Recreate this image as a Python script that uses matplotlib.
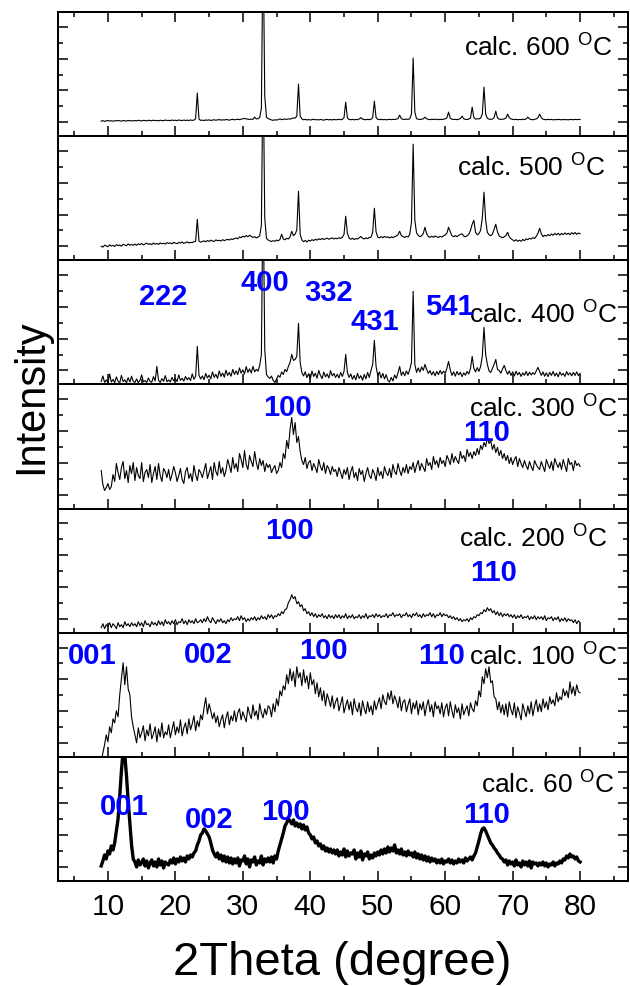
import numpy as np
import matplotlib
matplotlib.use('Agg')
import matplotlib.pyplot as plt
from matplotlib.ticker import MultipleLocator

plt.rcParams['font.family'] = 'Liberation Sans'
plt.rcParams['mathtext.fontset'] = 'custom'
plt.rcParams['mathtext.rm'] = 'Liberation Sans'

# XRD patterns, 2theta 9-80 deg in 0.25 deg steps (20 points = 5 deg per row)
i_600 = [
    15, 15.5, 14.8, 15.3, 15.6, 15.1, 15.4, 14.9, 15.5, 15.2, 15.7, 15.3, 15.0, 15.6, 15.4, 15.1, 15.8, 15.3, 15.5, 15.2,
    15.6, 15.3, 15.9, 15.4, 15.2, 15.8, 15.5, 15.3, 15.9, 15.6, 15.4, 16.0, 15.5, 15.7, 15.3, 15.9, 15.6, 15.4, 16.1, 15.7,
    15.8, 15.5, 16.1, 15.7, 15.9, 15.5, 16.2, 15.8, 15.6, 16.1, 15.7, 16.0, 15.6, 16.2, 15.8, 16.0, 17.5, 43, 17, 15.8,
    16.0, 15.6, 16.2, 15.9, 16.3, 15.7, 16.1, 16.4, 15.9, 16.2, 16.6, 16.0, 16.4, 16.1, 16.7, 16.3, 16.0, 16.5, 16.8, 16.3,
    16.6, 17.0, 16.5, 16.9, 17.3, 17.8, 17.2, 17.0, 16.6, 17.1, 16.8, 19, 17.2, 17.5, 18.5, 28, 200, 40, 19, 17.5,
    16.8, 16.2, 15.8, 16.4, 16.0, 16.6, 17.2, 16.5, 16.9, 17.2, 16.7, 17.3, 17.0, 17.6, 18.2, 18.0, 20, 52, 20, 17.2,
    16.4, 16.8, 16.2, 16.6, 16.1, 16.5, 16.9, 16.3, 16.6, 16.2, 16.7, 16.4, 16.0, 16.5, 16.8, 16.3, 16.6, 16.2, 16.7, 16.4,
    16.5, 16.9, 16.4, 16.8, 18.5, 34, 18.2, 16.7, 16.4, 16.8, 16.3, 16.7, 16.5, 17.2, 18.5, 17.0, 16.6, 16.4, 16.8, 16.5,
    16.9, 18.5, 35, 18.6, 16.8, 16.5, 16.9, 16.4, 16.7, 16.3, 16.6, 16.9, 16.5, 16.8, 16.6, 17.0, 17.5, 21, 17.4, 16.9,
    16.7, 17.0, 16.8, 17.4, 22, 78, 24, 17.5, 16.9, 16.6, 17.0, 17.3, 19, 17.4, 16.8, 16.5, 16.9, 16.6, 17.0, 16.7,
    16.5, 16.9, 16.6, 17.0, 17.3, 18.2, 24, 18.0, 16.9, 16.6, 16.8, 16.5, 16.9, 17.6, 20, 17.4, 16.8, 16.6, 17.1, 18.0,
    29, 18.5, 17.0, 17.4, 17.2, 18.0, 22, 49, 22, 17.8, 17.0, 16.8, 17.1, 18.5, 25, 18.3, 17.0, 16.7, 16.9, 17.2,
    18.0, 22, 18.5, 17.2, 16.8, 16.5, 16.8, 16.4, 16.7, 16.5, 16.9, 16.6, 17.2, 19, 17.3, 16.6, 16.4, 16.8, 17.2, 18.5,
    22, 18.4, 17.0, 16.6, 16.4, 16.8, 16.5, 16.7, 16.3, 16.6, 16.4, 16.8, 16.5, 16.3, 16.7, 16.4, 16.6, 16.3, 16.7, 16.5,
    16.4, 16.8, 16.5, 16.7, 16.6,
]

i_500 = [
    14.0, 13.2, 15.1, 14.3, 13.6, 15.4, 14.2, 15.0, 13.8, 15.6, 14.7, 15.3, 14.1, 16.0, 15.2, 14.6, 16.3, 15.1, 15.8, 14.9,
    16.2, 15.0, 16.6, 15.5, 16.9, 15.4, 16.3, 17.2, 15.8, 16.7, 15.6, 17.3, 16.1, 16.8, 15.9, 17.4, 16.5, 17.0, 16.2, 17.6,
    16.8, 17.5, 16.4, 18.0, 17.1, 16.6, 17.9, 17.2, 18.3, 16.9, 17.7, 18.4, 17.3, 18.0, 17.6, 18.6, 18.9, 41.0, 19.2, 18.1,
    18.7, 19.5, 18.4, 19.8, 18.9, 20.1, 19.3, 18.8, 20.4, 19.6, 20.0, 19.2, 20.6, 19.7, 20.3, 21.0, 20.2, 21.4, 20.8, 21.7,
    22.3, 21.5, 23.4, 22.6, 24.1, 23.2, 24.8, 23.5, 25.0, 23.8, 22.9, 23.6, 22.4, 23.1, 24.5, 35.0, 200, 42.0, 22.0, 20.3,
    19.4, 18.8, 19.6, 19.0, 20.2, 19.5, 20.8, 26.0, 21.2, 20.5, 22.0, 21.3, 23.5, 29.0, 24.6, 26.2, 30.0, 69.0, 26.0, 20.4,
    18.6, 19.8, 18.3, 20.1, 19.2, 20.6, 19.7, 21.0, 20.2, 21.5, 20.6, 21.9, 20.8, 21.4, 22.2, 21.0, 21.8, 22.4, 21.3, 22.0,
    21.5, 22.6, 21.8, 22.9, 26.0, 44.0, 27.0, 22.3, 21.0, 22.1, 20.7, 21.8, 21.2, 22.5, 23.8, 22.0, 21.3, 22.4, 21.6, 22.8,
    23.0, 28.0, 52.0, 28.5, 23.2, 22.4, 23.6, 22.7, 23.9, 22.8, 23.5, 22.3, 23.4, 22.6, 23.7, 24.2, 25.5, 29.0, 24.8, 23.6,
    22.8, 24.0, 23.3, 26.0, 38.0, 116.0, 40.0, 27.5, 25.0, 23.6, 24.4, 26.8, 33.0, 26.5, 23.8, 22.9, 24.1, 23.0, 24.3, 23.4,
    22.8, 24.0, 23.2, 24.5, 25.3, 27.0, 33.0, 28.5, 24.6, 23.5, 24.7, 23.6, 24.9, 25.8, 26.5, 24.3, 23.4, 24.6, 26.0, 30.0,
    36.0, 40.0, 28.0, 25.5, 26.5, 30.0, 42.0, 68.0, 40.0, 28.0, 25.4, 24.6, 26.0, 31.0, 36.0, 28.5, 24.4, 23.2, 22.6, 23.5,
    24.6, 28.0, 23.4, 21.6, 20.4, 19.2, 20.6, 18.9, 20.1, 19.0, 20.8, 19.6, 21.4, 20.5, 22.0, 21.2, 22.6, 21.8, 24.0, 27.0,
    32.0, 26.5, 23.6, 25.0, 24.2, 25.8, 24.6, 26.3, 25.0, 26.8, 25.4, 27.0, 25.2, 26.9, 25.6, 27.4, 25.8, 27.1, 25.5, 27.6,
    26.2, 27.8, 25.9, 27.3, 26.5,
]

i_400 = [
    3.0, 8.5, 2.0, 4.5, 1.5, 10.5, 2.5, 5.0, 1.8, 7.5, 3.2, 1.5, 9.0, 2.8, 4.6, 1.6, 6.8, 2.4, 8.2, 3.0,
    2.0, 5.5, 1.8, 4.0, 9.5, 2.6, 3.8, 1.9, 6.5, 3.0, 2.2, 7.8, 3.5, 18.0, 4.2, 2.0, 5.8, 3.1, 8.8, 2.7,
    4.5, 2.5, 7.0, 3.6, 5.8, 2.9, 9.5, 4.0, 6.2, 3.3, 8.0, 4.6, 6.8, 3.8, 10.5, 5.2, 8.0, 38.0, 9.0, 5.5,
    8.5, 4.8, 11.0, 6.5, 9.2, 5.6, 12.5, 7.0, 10.2, 6.0, 13.5, 8.0, 11.4, 7.2, 14.2, 9.0, 12.0, 8.2, 15.0, 10.0,
    13.5, 9.8, 16.5, 11.2, 14.6, 10.5, 17.8, 12.0, 15.5, 11.4, 18.0, 12.6, 15.0, 13.2, 19.0, 30.0, 200.0, 35.0, 10.0, 7.5,
    6.0, 8.4, 4.0, 2.0, 5.5, 9.0, 7.2, 12.5, 10.0, 15.0, 12.8, 18.0, 22.0, 30.0, 24.0, 25.0, 28.0, 61.0, 22.0, 12.0,
    8.5, 12.6, 6.8, 10.8, 5.5, 13.5, 8.0, 11.2, 6.2, 14.0, 9.0, 5.8, 12.4, 7.6, 10.5, 6.4, 13.8, 8.6, 11.0, 7.0,
    10.2, 6.5, 12.0, 8.0, 13.0, 30.0, 12.0, 7.0, 10.5, 5.2, 9.0, 4.6, 11.0, 6.0, 8.8, 4.2, 10.0, 5.6, 12.0, 7.0,
    14.0, 20.0, 44.0, 18.0, 9.0, 12.5, 6.5, 11.0, 5.5, 9.8, 4.0, 2.5, 7.0, 3.5, 9.5, 6.0, 11.5, 18.0, 9.0, 12.5,
    8.6, 13.5, 10.0, 15.0, 22.0, 93.0, 20.0, 12.0, 16.5, 12.4, 17.5, 14.0, 20.0, 15.0, 11.0, 13.8, 9.5, 12.8, 8.6, 13.0,
    9.8, 14.0, 10.5, 13.2, 11.0, 16.0, 23.0, 14.5, 9.0, 12.6, 8.2, 13.0, 9.5, 12.2, 7.8, 11.6, 9.2, 13.0, 10.4, 16.0,
    28.0, 16.0, 12.5, 16.8, 13.0, 18.0, 28.0, 57.0, 30.0, 20.0, 13.5, 12.0, 16.0, 20.0, 25.0, 15.0, 14.0, 11.2, 15.5, 19.0,
    14.0, 10.2, 13.5, 9.0, 12.6, 8.5, 13.2, 9.6, 12.0, 8.0, 11.5, 9.2, 13.0, 8.8, 12.2, 9.5, 11.8, 10.0, 13.5, 17.0,
    13.0, 9.0, 12.5, 8.2, 11.6, 7.8, 12.0, 9.0, 13.0, 8.4, 11.4, 7.6, 12.4, 9.2, 11.0, 8.0, 12.8, 9.4, 11.6, 8.6,
    12.0, 9.0, 12.6, 8.8, 11.0,
]

i_300 = [
    38, 24, 18, 21, 25, 19, 22, 34, 27, 45, 36, 29, 41, 47, 30, 38, 26, 43, 35, 46,
    28, 41, 33, 30, 46, 27, 36, 39, 31, 44, 26, 35, 42, 29, 45, 33, 27, 40, 37, 31,
    39, 28, 34, 42, 36, 27, 33, 40, 29, 25, 37, 41, 30, 35, 27, 43, 34, 28, 39, 36,
    31, 38, 45, 30, 36, 42, 29, 46, 37, 33, 47, 35, 41, 32, 38, 49, 43, 36, 51, 40,
    45, 37, 55, 49, 41, 58, 44, 39, 53, 47, 42, 57, 46, 39, 50, 43, 48, 37, 45, 41,
    44, 36, 40, 43, 35, 38, 46, 41, 55, 50, 68, 60, 79, 91, 74, 86, 66, 72, 57, 48,
    44, 51, 40, 46, 48, 38, 45, 41, 36, 49, 42, 38, 46, 35, 43, 40, 34, 42, 37, 39,
    32, 41, 36, 30, 39, 34, 41, 29, 37, 42, 31, 36, 28, 40, 34, 38, 27, 35, 41, 33,
    30, 39, 35, 28, 41, 33, 37, 30, 42, 36, 33, 40, 31, 44, 37, 34, 45, 38, 33, 41,
    36, 44, 35, 42, 39, 46, 36, 43, 48, 38, 45, 41, 37, 50, 43, 46, 39, 52, 44, 48,
    41, 51, 45, 48, 42, 53, 49, 44, 55, 46, 52, 48, 45, 57, 50, 53, 47, 59, 52, 56,
    50, 57, 53, 60, 54, 63, 59, 66, 62, 71, 65, 68, 59, 64, 56, 61, 53, 58, 50, 55,
    48, 53, 45, 51, 44, 49, 52, 42, 50, 45, 41, 48, 43, 39, 47, 42, 38, 48, 44, 41,
    39, 47, 42, 37, 49, 44, 40, 47, 38, 50, 45, 41, 46, 39, 49, 43, 37, 50, 44, 46,
    38, 48, 43, 45, 42,
]

i_200 = [
    5, 9, 4, 8, 6, 10, 5, 9, 7, 4, 10, 6, 8, 5, 11, 7, 9, 6, 10, 7,
    9, 6, 11, 7, 10, 6, 12, 8, 9, 6, 11, 8, 10, 7, 12, 8, 11, 7, 13, 9,
    11, 8, 12, 9, 13, 8, 11, 10, 14, 9, 12, 8, 13, 10, 12, 9, 14, 10, 11, 13,
    10, 14, 11, 16, 12, 10, 15, 12, 9, 13, 11, 14, 10, 12, 9, 13, 11, 15, 12, 14,
    13, 16, 12, 17, 13, 15, 11, 14, 12, 15, 13, 16, 12, 15, 13, 17, 14, 16, 13, 18,
    15, 18, 14, 17, 16, 19, 17, 21, 19, 23, 24, 30, 33, 38, 34, 36, 29, 31, 26, 28,
    22, 24, 19, 21, 17, 20, 16, 19, 15, 18, 16, 19, 15, 17, 14, 18, 15, 17, 14, 18,
    15, 18, 14, 17, 15, 19, 14, 17, 15, 18, 14, 16, 15, 18, 14, 17, 15, 19, 14, 17,
    16, 18, 15, 19, 16, 18, 15, 17, 16, 19, 15, 18, 17, 20, 16, 18, 17, 19, 15, 18,
    17, 20, 16, 18, 15, 19, 17, 20, 16, 18, 15, 19, 16, 18, 17, 20, 16, 19, 15, 18,
    17, 20, 16, 19, 17, 18, 15, 17, 14, 16, 13, 15, 12, 14, 11, 13, 12, 14, 11, 15,
    13, 16, 15, 18, 17, 20, 19, 23, 21, 25, 22, 24, 20, 22, 18, 21, 17, 20, 16, 19,
    17, 19, 16, 18, 15, 18, 14, 17, 15, 18, 14, 16, 15, 17, 13, 16, 14, 17, 13, 16,
    14, 16, 13, 17, 12, 15, 14, 16, 12, 15, 13, 16, 11, 14, 12, 15, 11, 14, 12, 13,
    10, 13, 9, 12, 10,
]

i_100 = [
    -5, 4, 12, 22, 15, 30, 24, 38, 34, 46, 40, 62, 78, 94, 72, 90, 68, 62, 40, 30,
    22, 14, 29, 19, 24, 31, 16, 27, 21, 33, 18, 23, 30, 15, 28, 20, 34, 19, 25, 22,
    32, 19, 27, 35, 22, 30, 24, 37, 21, 29, 34, 23, 38, 27, 33, 41, 26, 36, 30, 42,
    37, 49, 59, 43, 53, 46, 38, 44, 34, 41, 30, 37, 42, 29, 39, 45, 32, 41, 36, 46,
    35, 44, 48, 37, 45, 40, 35, 50, 43, 38, 52, 41, 46, 37, 53, 44, 39, 48, 42, 51,
    49, 40, 53, 45, 58, 51, 66, 61, 71, 67, 82, 73, 88, 76, 85, 70, 90, 79, 84, 71,
    87, 74, 81, 68, 84, 72, 77, 63, 74, 60, 69, 56, 66, 51, 63, 57, 50, 61, 48, 55,
    59, 46, 53, 60, 44, 51, 57, 47, 55, 42, 58, 49, 45, 54, 41, 56, 48, 43, 55, 45,
    51, 42, 56, 47, 53, 59, 48, 62, 55, 52, 64, 57, 66, 53, 61, 56, 49, 60, 46, 55,
    57, 45, 52, 58, 43, 54, 48, 56, 42, 53, 47, 55, 41, 51, 57, 45, 52, 40, 55, 48,
    51, 43, 54, 40, 49, 53, 41, 55, 46, 39, 52, 44, 49, 38, 53, 42, 47, 51, 41, 54,
    48, 45, 56, 51, 66, 60, 80, 73, 88, 79, 90, 74, 76, 60, 58, 47, 55, 44, 52, 42,
    53, 40, 55, 47, 42, 54, 39, 50, 44, 37, 53, 46, 40, 51, 43, 55, 41, 50, 57, 45,
    53, 45, 58, 49, 55, 47, 60, 53, 57, 51, 64, 55, 60, 57, 68, 61, 66, 59, 75, 63,
    70, 61, 72, 65, 64,
]

i_60 = [
    15, 20, 26, 22, 30, 27, 35, 31, 38, 50, 62, 85, 110, 130, 126, 105, 80, 58, 36, 22,
    19, 14, 21, 16, 18, 22, 15, 20, 13, 18, 21, 15, 19, 14, 22, 16, 20, 13, 19, 17,
    16, 21, 18, 23, 17, 22, 19, 24, 20, 23, 19, 25, 22, 26, 24, 28, 30, 36, 40, 46,
    48, 52, 50, 47, 44, 38, 31, 27, 24, 28, 22, 26, 20, 25, 19, 24, 18, 23, 17, 22,
    18, 23, 15, 21, 20, 25, 17, 22, 14, 21, 19, 24, 16, 20, 18, 25, 16, 22, 19, 23,
    19, 24, 18, 25, 22, 30, 36, 42, 48, 55, 58, 62, 60, 57, 61, 55, 58, 54, 57, 52,
    56, 51, 54, 48, 46, 42, 44, 38, 40, 35, 37, 32, 35, 30, 33, 29, 32, 28, 31, 27,
    31, 25, 29, 26, 32, 24, 30, 25, 28, 27, 31, 22, 28, 24, 30, 21, 27, 25, 29, 22,
    26, 23, 28, 25, 29, 26, 31, 27, 32, 28, 34, 29, 33, 30, 36, 28, 31, 27, 32, 26,
    29, 25, 30, 26, 28, 24, 29, 23, 27, 22, 26, 21, 25, 20, 24, 19, 23, 20, 22, 18,
    21, 18, 22, 17, 20, 19, 22, 18, 21, 17, 20, 18, 22, 19, 21, 18, 23, 20, 22, 24,
    21, 25, 28, 34, 40, 47, 52, 53, 50, 46, 42, 38, 36, 33, 31, 28, 26, 23, 22, 19,
    21, 16, 20, 17, 19, 15, 21, 16, 18, 14, 20, 16, 19, 15, 20, 13, 19, 17, 18, 15,
    18, 16, 19, 15, 18, 14, 17, 16, 19, 15, 18, 17, 20, 18, 22, 21, 25, 23, 27, 24,
    25, 22, 24, 20, 19,
]

temps = ['600', '500', '400', '300', '200', '100', '60']
patterns = [i_600, i_500, i_400, i_300, i_200, i_100, i_60]
line_w = [0.8, 0.8, 0.8, 0.8, 0.8, 0.8, 2.4]
# where the calc. label sits (axes fraction, right edge / vertical centre)
calc_pos = [(0.972, 0.728), (0.960, 0.760), (0.981, 0.580), (0.981, 0.825),
            (0.963, 0.777), (0.981, 0.823), (0.977, 0.790)]

# Miller indices per panel: (2theta, height, label)
hkl = {
    2: [(18.2, 88, '222'), (33.3, 102, '400'), (42.7, 92, '332'), (49.6, 63, '431'), (60.6, 78, '541')],
    3: [(36.6, 101, '100'), (66.1, 76, '110')],
    4: [(36.9, 103, '100'), (67.1, 61, '110')],
    5: [(7.6, 102, '001'), (24.8, 103, '002'), (42.0, 107, '100'), (59.4, 102, '110')],
    6: [(12.4, 75, '001'), (25.0, 62, '002'), (36.3, 70, '100'), (66.1, 67, '110')],
}

fig, axes = plt.subplots(7, 1, figsize=(6.3, 9.87), dpi=100, sharex=True)
fig.subplots_adjust(left=0.0921, right=0.9968, top=0.9868, bottom=0.1064, hspace=0)

for k, ax in enumerate(axes):
    y = patterns[k]
    x = np.linspace(9, 80, len(y))
    ax.plot(x, y, color='black', lw=line_w[k])
    ax.set_xlim(2.6, 87.1)
    ax.set_ylim(0, 124)
    for s in ax.spines.values():
        s.set_linewidth(1.45)
    ax.xaxis.set_major_locator(MultipleLocator(10))
    ax.xaxis.set_minor_locator(MultipleLocator(5))
    ax.yaxis.set_major_locator(MultipleLocator(31.7, offset=14))
    ax.yaxis.set_minor_locator(MultipleLocator(15.85, offset=14))
    ax.tick_params(which='both', direction='in', top=(k == 0), right=True,
                   labelleft=False, width=1.1)
    ax.tick_params(which='major', length=7.5)
    ax.tick_params(which='minor', length=3.8)
    ax.tick_params(axis='x', labelbottom=(k == 6), labelsize=21.5, pad=8)
    cx, cy = calc_pos[k]
    ax.text(cx, cy, 'calc. ' + temps[k] + r' $^{\mathrm{O}}$C', transform=ax.transAxes,
            ha='right', va='center', fontsize=19)
    for hx, hy, lab in hkl.get(k, []):
        ax.text(hx, hy, lab, color='blue', fontsize=21, fontweight='bold',
                ha='center', va='center')

fig.text(0.049, 0.598, 'Intensity', rotation=90, ha='center', va='center', fontsize=30)
fig.text(0.543, 0.0122, '2Theta (degree)', ha='center', va='baseline', fontsize=34)

fig.savefig('out.png', dpi=100)
